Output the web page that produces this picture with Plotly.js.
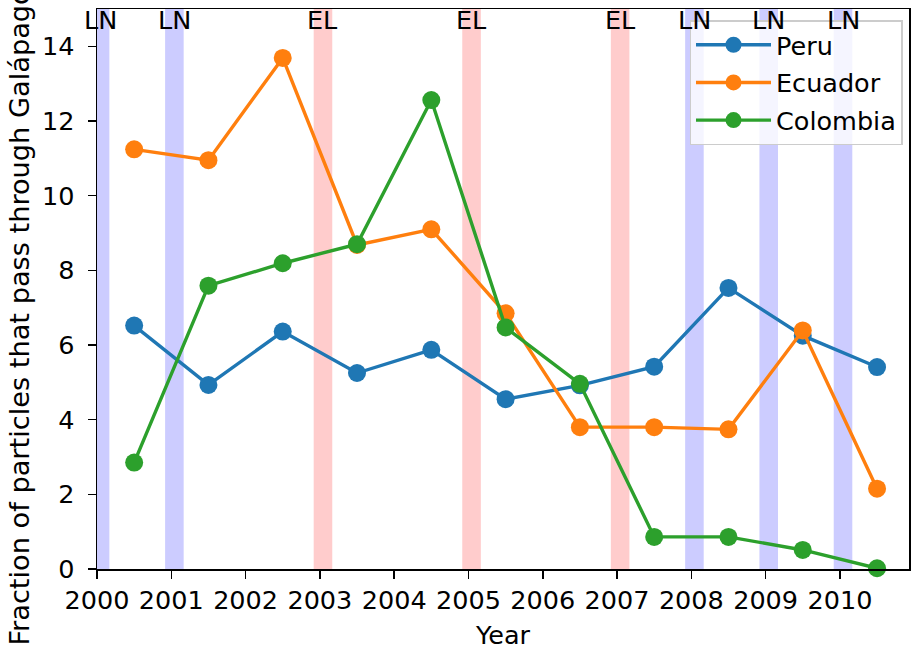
<!DOCTYPE html>
<html>
<head>
<meta charset="utf-8">
<script src="https://cdn.plot.ly/plotly-3.0.1.min.js"></script>
<style>body{margin:0;padding:0;background:#fff;} #chart{width:914px;height:650px;}</style>
</head>
<body>
<div id="chart"></div>
<script>
const years = [2000.5, 2001.5, 2002.5, 2003.5, 2004.5, 2005.5, 2006.5, 2007.5, 2008.5, 2009.5, 2010.5];
const peru = [6.52, 4.93, 6.36, 5.25, 5.87, 4.55, 4.92, 5.42, 7.53, 6.25, 5.41];
const ecuador = [11.24, 10.95, 13.69, 8.68, 9.10, 6.85, 3.80, 3.80, 3.74, 6.39, 2.15];
const colombia = [2.85, 7.59, 8.19, 8.70, 12.56, 6.47, 4.96, 0.86, 0.86, 0.51, 0.02];
const laNinaYears = [2000, 2001, 2008, 2009, 2010];
const elNinoYears = [2003, 2005, 2007];
const eventStart = -1/12, eventEnd = 2/12;
const yTitle = 'Fraction of particles that pass through Galápagos';

const font = 'DejaVu Sans, Liberation Sans, sans-serif';
const fs = 25.5;

function tr(name, y, color) {
  return {x: years, y: y, name: name, type: 'scatter', mode: 'lines+markers', legendgroup: name,
    line: {color: color, width: 3.4}, marker: {color: color, size: 18}, cliponaxis: false};
}
const data = [tr('Peru', peru, '#1f77b4'), tr('Ecuador', ecuador, '#ff7f0e'), tr('Colombia', colombia, '#2ca02c')];

const shapes = [], annotations = [];
function band(yr, color, label) {
  shapes.push({type: 'rect', xref: 'x', yref: 'paper', x0: yr + eventStart, x1: yr + eventEnd, y0: 0, y1: 1,
    fillcolor: color, line: {width: 0}, layer: 'below'});
  annotations.push({x: yr + (eventStart + eventEnd) / 2, y: 14.7, xref: 'x', yref: 'y', text: label,
    showarrow: false, xanchor: 'center', yanchor: 'middle', font: {family: font, size: fs, color: '#000'}});
}
laNinaYears.forEach(y => band(y, '#ccccff', 'LN'));
elNinoYears.forEach(y => band(y, '#ffcccc', 'EL'));
annotations.push({xref: 'paper', yref: 'paper', x: -0.095, y: 0.463, xanchor: 'center', yanchor: 'middle',
  textangle: -90, showarrow: false, text: yTitle, font: {family: font, size: 27.2, color: '#000'}});

const layout = {
  width: 914, height: 650,
  margin: {l: 97, r: 5, t: 9, b: 81, pad: 0},
  paper_bgcolor: '#fff', plot_bgcolor: '#fff',
  font: {family: font, size: fs, color: '#000'},
  showlegend: true,
  legend: {x: 0.992, y: 0.98, xanchor: 'right', yanchor: 'top', bgcolor: 'rgba(255,255,255,0.8)',
    bordercolor: '#cccccc', borderwidth: 1.5, font: {family: font, size: fs, color: '#000'},
    traceorder: 'grouped', tracegroupgap: 1.5, itemwidth: 75},
  xaxis: {range: [2000, 2010.93], tickmode: 'array', tickvals: [2000,2001,2002,2003,2004,2005,2006,2007,2008,2009,2010],
    ticktext: ['2000','2001','2002','2003','2004','2005','2006','2007','2008','2009','2010'],
    ticks: 'outside', ticklen: 8, tickwidth: 1.5, tickcolor: '#000', showgrid: false, zeroline: false,
    showline: true, linecolor: '#000', linewidth: 1.5, mirror: true,
    tickfont: {family: font, size: fs, color: '#000'},
    title: {text: 'Year', font: {family: font, size: fs, color: '#000'}, standoff: 12}},
  yaxis: {range: [0, 15], tickvals: [0,2,4,6,8,10,12,14], ticktext: ['0','2','4','6','8','10','12','14'],
    ticks: 'outside', ticklen: 8, tickwidth: 1.5, tickcolor: '#000', showgrid: false, zeroline: false,
    showline: true, linecolor: '#000', linewidth: 1.5, mirror: true, ticklabelstandoff: 8,
    tickfont: {family: font, size: fs, color: '#000'}},
  shapes: shapes, annotations: annotations
};
Plotly.newPlot('chart', data, layout, {displayModeBar: false, staticPlot: true});
</script>
</body>
</html>
